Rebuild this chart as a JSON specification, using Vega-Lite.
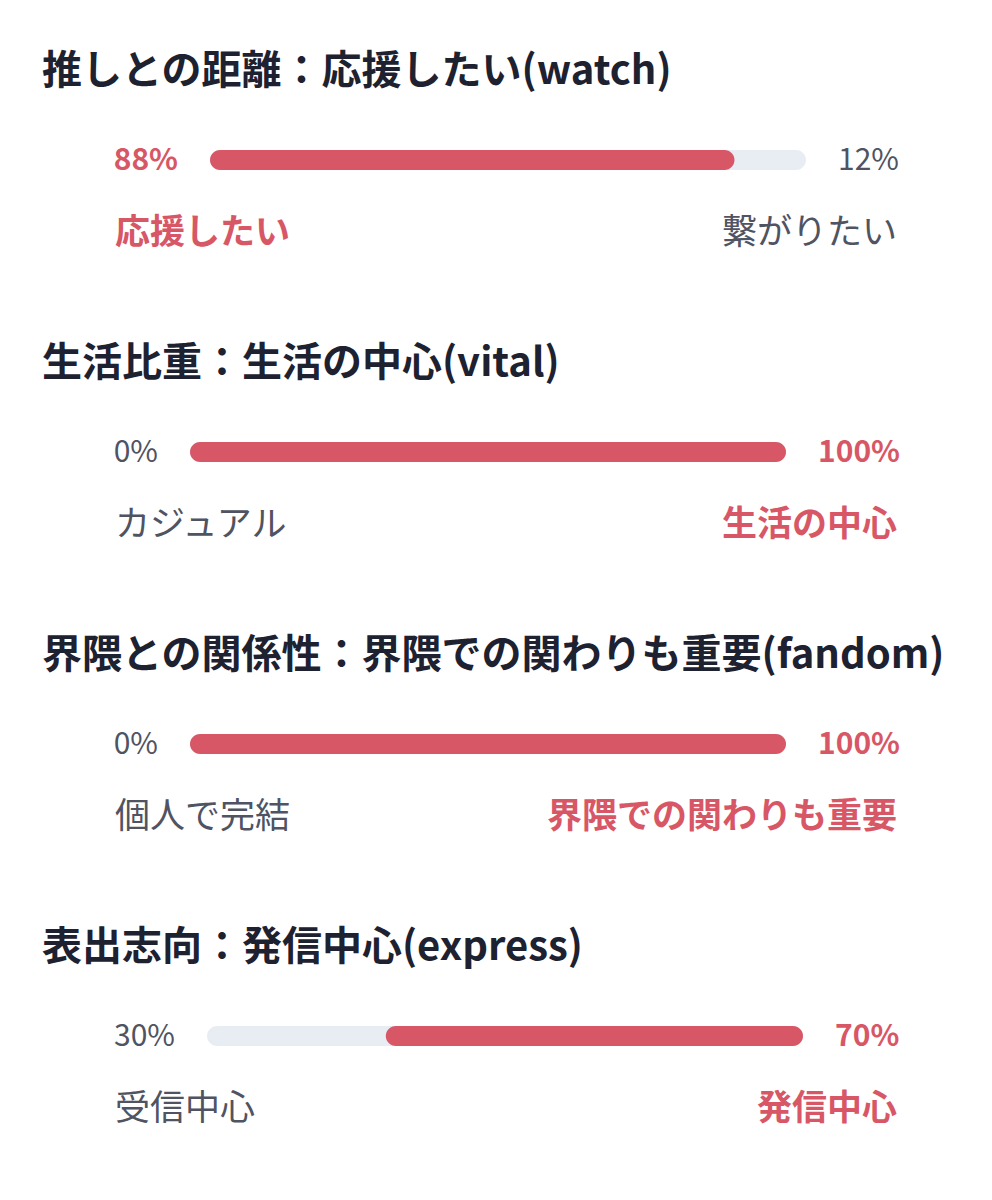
{
"$schema": "https://vega.github.io/schema/vega-lite/v6.json",
"background": "white",
"padding": 0,
"autosize": {"type": "pad"},
"spacing": 0,
"config": {"view": {"stroke": null}, "font": "Noto Sans CJK JP", "text": {"font": "Noto Sans CJK JP"}},
"datasets": {
"d": [
{"sec":1,"title":"推しとの距離：応援したい(watch)","lp":0.88,"rp":0.12,"leftLabel":"応援したい","rightLabel":"繋がりたい","winner":"left"},
{"sec":2,"title":"生活比重：生活の中心(vital)","lp":0,"rp":1,"leftLabel":"カジュアル","rightLabel":"生活の中心","winner":"right"},
{"sec":3,"title":"界隈との関係性：界隈での関わりも重要(fandom)","lp":0,"rp":1,"leftLabel":"個人で完結","rightLabel":"界隈での関わりも重要","winner":"right"},
{"sec":4,"title":"表出志向：発信中心(express)","lp":0.3,"rp":0.7,"leftLabel":"受信中心","rightLabel":"発信中心","winner":"right"}
]
},
"vconcat": [
{
"width": 992, "height": 292,
"data": {"name": "d"},
"transform": [{"filter": "datum.sec == 1"}],
"layer": [
{"mark":{"type":"text","align":"left","baseline":"middle","fontSize":40,"fontWeight":"bold","color":"#1D2130","dx":-168,"dy":-15},"encoding":{"x":{"datum":0,"type":"quantitative","scale":{"domain":[0,1],"range":[210,806]},"axis":null},"y":{"datum":"title","type":"nominal","scale":{"type":"point","domain":["title","bar","label"],"range":[87,233],"padding":0},"axis":null},"text":{"field":"title"}}},
{"mark":{"type":"bar","height":20,"cornerRadius":10,"color":"#E8EDF4"},"encoding":{"x":{"datum":0,"type":"quantitative"},"x2":{"datum":1},"y":{"datum":"bar","type":"nominal"}}},
{"transform":[{"filter":"datum.winner == 'left'"}],"mark":{"type":"bar","height":20,"cornerRadius":10,"color":"#D85766"},"encoding":{"x":{"field":"lp","type":"quantitative"},"x2":{"datum":0},"y":{"datum":"bar","type":"nominal"}}},
{"transform":[{"filter":"datum.winner == 'right'"}],"mark":{"type":"bar","height":20,"cornerRadius":10,"color":"#D85766"},"encoding":{"x":{"field":"lp","type":"quantitative"},"x2":{"datum":1},"y":{"datum":"bar","type":"nominal"}}},
{"transform":[{"filter":"datum.winner == 'left'"}],"mark":{"type":"text","align":"right","baseline":"middle","fontSize":30,"fontWeight":"bold","color":"#D85766","dx":-32,"dy":1},"encoding":{"x":{"datum":0,"type":"quantitative"},"y":{"datum":"bar","type":"nominal"},"text":{"field":"lp","format":".0%"}}},
{"transform":[{"filter":"datum.winner != 'left'"}],"mark":{"type":"text","align":"right","baseline":"middle","fontSize":30,"fontWeight":"normal","color":"#4F5362","dx":-32,"dy":1},"encoding":{"x":{"datum":0,"type":"quantitative"},"y":{"datum":"bar","type":"nominal"},"text":{"field":"lp","format":".0%"}}},
{"transform":[{"filter":"datum.winner == 'right'"}],"mark":{"type":"text","align":"left","baseline":"middle","fontSize":30,"fontWeight":"bold","color":"#D85766","dx":32,"dy":1},"encoding":{"x":{"datum":1,"type":"quantitative"},"y":{"datum":"bar","type":"nominal"},"text":{"field":"rp","format":".0%"}}},
{"transform":[{"filter":"datum.winner != 'right'"}],"mark":{"type":"text","align":"left","baseline":"middle","fontSize":30,"fontWeight":"normal","color":"#4F5362","dx":32,"dy":1},"encoding":{"x":{"datum":1,"type":"quantitative"},"y":{"datum":"bar","type":"nominal"},"text":{"field":"rp","format":".0%"}}},
{"transform":[{"filter":"datum.winner == 'left'"}],"mark":{"type":"text","align":"left","baseline":"middle","fontSize":35,"fontWeight":"bold","color":"#D85766","dx":-95},"encoding":{"x":{"datum":0,"type":"quantitative"},"y":{"datum":"label","type":"nominal"},"text":{"field":"leftLabel"}}},
{"transform":[{"filter":"datum.winner != 'left'"}],"mark":{"type":"text","align":"left","baseline":"middle","fontSize":35,"fontWeight":"normal","color":"#4F5362","dx":-95},"encoding":{"x":{"datum":0,"type":"quantitative"},"y":{"datum":"label","type":"nominal"},"text":{"field":"leftLabel"}}},
{"transform":[{"filter":"datum.winner == 'right'"}],"mark":{"type":"text","align":"right","baseline":"middle","fontSize":35,"fontWeight":"bold","color":"#D85766","dx":91},"encoding":{"x":{"datum":1,"type":"quantitative"},"y":{"datum":"label","type":"nominal"},"text":{"field":"rightLabel"}}},
{"transform":[{"filter":"datum.winner != 'right'"}],"mark":{"type":"text","align":"right","baseline":"middle","fontSize":35,"fontWeight":"normal","color":"#4F5362","dx":91},"encoding":{"x":{"datum":1,"type":"quantitative"},"y":{"datum":"label","type":"nominal"},"text":{"field":"rightLabel"}}}
]
},
{
"width": 992, "height": 292,
"data": {"name": "d"},
"transform": [{"filter": "datum.sec == 2"}],
"layer": [
{"mark":{"type":"text","align":"left","baseline":"middle","fontSize":40,"fontWeight":"bold","color":"#1D2130","dx":-148,"dy":-15},"encoding":{"x":{"datum":0,"type":"quantitative","scale":{"domain":[0,1],"range":[190,786]},"axis":null},"y":{"datum":"title","type":"nominal","scale":{"type":"point","domain":["title","bar","label"],"range":[87,233],"padding":0},"axis":null},"text":{"field":"title"}}},
{"mark":{"type":"bar","height":20,"cornerRadius":10,"color":"#E8EDF4"},"encoding":{"x":{"datum":0,"type":"quantitative"},"x2":{"datum":1},"y":{"datum":"bar","type":"nominal"}}},
{"transform":[{"filter":"datum.winner == 'left'"}],"mark":{"type":"bar","height":20,"cornerRadius":10,"color":"#D85766"},"encoding":{"x":{"field":"lp","type":"quantitative"},"x2":{"datum":0},"y":{"datum":"bar","type":"nominal"}}},
{"transform":[{"filter":"datum.winner == 'right'"}],"mark":{"type":"bar","height":20,"cornerRadius":10,"color":"#D85766"},"encoding":{"x":{"field":"lp","type":"quantitative"},"x2":{"datum":1},"y":{"datum":"bar","type":"nominal"}}},
{"transform":[{"filter":"datum.winner == 'left'"}],"mark":{"type":"text","align":"right","baseline":"middle","fontSize":30,"fontWeight":"bold","color":"#D85766","dx":-32,"dy":1},"encoding":{"x":{"datum":0,"type":"quantitative"},"y":{"datum":"bar","type":"nominal"},"text":{"field":"lp","format":".0%"}}},
{"transform":[{"filter":"datum.winner != 'left'"}],"mark":{"type":"text","align":"right","baseline":"middle","fontSize":30,"fontWeight":"normal","color":"#4F5362","dx":-32,"dy":1},"encoding":{"x":{"datum":0,"type":"quantitative"},"y":{"datum":"bar","type":"nominal"},"text":{"field":"lp","format":".0%"}}},
{"transform":[{"filter":"datum.winner == 'right'"}],"mark":{"type":"text","align":"left","baseline":"middle","fontSize":30,"fontWeight":"bold","color":"#D85766","dx":32,"dy":1},"encoding":{"x":{"datum":1,"type":"quantitative"},"y":{"datum":"bar","type":"nominal"},"text":{"field":"rp","format":".0%"}}},
{"transform":[{"filter":"datum.winner != 'right'"}],"mark":{"type":"text","align":"left","baseline":"middle","fontSize":30,"fontWeight":"normal","color":"#4F5362","dx":32,"dy":1},"encoding":{"x":{"datum":1,"type":"quantitative"},"y":{"datum":"bar","type":"nominal"},"text":{"field":"rp","format":".0%"}}},
{"transform":[{"filter":"datum.winner == 'left'"}],"mark":{"type":"text","align":"left","baseline":"middle","fontSize":35,"fontWeight":"bold","color":"#D85766","dx":-75},"encoding":{"x":{"datum":0,"type":"quantitative"},"y":{"datum":"label","type":"nominal"},"text":{"field":"leftLabel"}}},
{"transform":[{"filter":"datum.winner != 'left'"}],"mark":{"type":"text","align":"left","baseline":"middle","fontSize":35,"fontWeight":"normal","color":"#4F5362","dx":-75},"encoding":{"x":{"datum":0,"type":"quantitative"},"y":{"datum":"label","type":"nominal"},"text":{"field":"leftLabel"}}},
{"transform":[{"filter":"datum.winner == 'right'"}],"mark":{"type":"text","align":"right","baseline":"middle","fontSize":35,"fontWeight":"bold","color":"#D85766","dx":111},"encoding":{"x":{"datum":1,"type":"quantitative"},"y":{"datum":"label","type":"nominal"},"text":{"field":"rightLabel"}}},
{"transform":[{"filter":"datum.winner != 'right'"}],"mark":{"type":"text","align":"right","baseline":"middle","fontSize":35,"fontWeight":"normal","color":"#4F5362","dx":111},"encoding":{"x":{"datum":1,"type":"quantitative"},"y":{"datum":"label","type":"nominal"},"text":{"field":"rightLabel"}}}
]
},
{
"width": 992, "height": 292,
"data": {"name": "d"},
"transform": [{"filter": "datum.sec == 3"}],
"layer": [
{"mark":{"type":"text","align":"left","baseline":"middle","fontSize":40,"fontWeight":"bold","color":"#1D2130","dx":-148,"dy":-15},"encoding":{"x":{"datum":0,"type":"quantitative","scale":{"domain":[0,1],"range":[190,786]},"axis":null},"y":{"datum":"title","type":"nominal","scale":{"type":"point","domain":["title","bar","label"],"range":[87,233],"padding":0},"axis":null},"text":{"field":"title"}}},
{"mark":{"type":"bar","height":20,"cornerRadius":10,"color":"#E8EDF4"},"encoding":{"x":{"datum":0,"type":"quantitative"},"x2":{"datum":1},"y":{"datum":"bar","type":"nominal"}}},
{"transform":[{"filter":"datum.winner == 'left'"}],"mark":{"type":"bar","height":20,"cornerRadius":10,"color":"#D85766"},"encoding":{"x":{"field":"lp","type":"quantitative"},"x2":{"datum":0},"y":{"datum":"bar","type":"nominal"}}},
{"transform":[{"filter":"datum.winner == 'right'"}],"mark":{"type":"bar","height":20,"cornerRadius":10,"color":"#D85766"},"encoding":{"x":{"field":"lp","type":"quantitative"},"x2":{"datum":1},"y":{"datum":"bar","type":"nominal"}}},
{"transform":[{"filter":"datum.winner == 'left'"}],"mark":{"type":"text","align":"right","baseline":"middle","fontSize":30,"fontWeight":"bold","color":"#D85766","dx":-32,"dy":1},"encoding":{"x":{"datum":0,"type":"quantitative"},"y":{"datum":"bar","type":"nominal"},"text":{"field":"lp","format":".0%"}}},
{"transform":[{"filter":"datum.winner != 'left'"}],"mark":{"type":"text","align":"right","baseline":"middle","fontSize":30,"fontWeight":"normal","color":"#4F5362","dx":-32,"dy":1},"encoding":{"x":{"datum":0,"type":"quantitative"},"y":{"datum":"bar","type":"nominal"},"text":{"field":"lp","format":".0%"}}},
{"transform":[{"filter":"datum.winner == 'right'"}],"mark":{"type":"text","align":"left","baseline":"middle","fontSize":30,"fontWeight":"bold","color":"#D85766","dx":32,"dy":1},"encoding":{"x":{"datum":1,"type":"quantitative"},"y":{"datum":"bar","type":"nominal"},"text":{"field":"rp","format":".0%"}}},
{"transform":[{"filter":"datum.winner != 'right'"}],"mark":{"type":"text","align":"left","baseline":"middle","fontSize":30,"fontWeight":"normal","color":"#4F5362","dx":32,"dy":1},"encoding":{"x":{"datum":1,"type":"quantitative"},"y":{"datum":"bar","type":"nominal"},"text":{"field":"rp","format":".0%"}}},
{"transform":[{"filter":"datum.winner == 'left'"}],"mark":{"type":"text","align":"left","baseline":"middle","fontSize":35,"fontWeight":"bold","color":"#D85766","dx":-75},"encoding":{"x":{"datum":0,"type":"quantitative"},"y":{"datum":"label","type":"nominal"},"text":{"field":"leftLabel"}}},
{"transform":[{"filter":"datum.winner != 'left'"}],"mark":{"type":"text","align":"left","baseline":"middle","fontSize":35,"fontWeight":"normal","color":"#4F5362","dx":-75},"encoding":{"x":{"datum":0,"type":"quantitative"},"y":{"datum":"label","type":"nominal"},"text":{"field":"leftLabel"}}},
{"transform":[{"filter":"datum.winner == 'right'"}],"mark":{"type":"text","align":"right","baseline":"middle","fontSize":35,"fontWeight":"bold","color":"#D85766","dx":111},"encoding":{"x":{"datum":1,"type":"quantitative"},"y":{"datum":"label","type":"nominal"},"text":{"field":"rightLabel"}}},
{"transform":[{"filter":"datum.winner != 'right'"}],"mark":{"type":"text","align":"right","baseline":"middle","fontSize":35,"fontWeight":"normal","color":"#4F5362","dx":111},"encoding":{"x":{"datum":1,"type":"quantitative"},"y":{"datum":"label","type":"nominal"},"text":{"field":"rightLabel"}}}
]
},
{
"width": 992, "height": 292,
"data": {"name": "d"},
"transform": [{"filter": "datum.sec == 4"}],
"layer": [
{"mark":{"type":"text","align":"left","baseline":"middle","fontSize":40,"fontWeight":"bold","color":"#1D2130","dx":-165,"dy":-15},"encoding":{"x":{"datum":0,"type":"quantitative","scale":{"domain":[0,1],"range":[207,803]},"axis":null},"y":{"datum":"title","type":"nominal","scale":{"type":"point","domain":["title","bar","label"],"range":[87,233],"padding":0},"axis":null},"text":{"field":"title"}}},
{"mark":{"type":"bar","height":20,"cornerRadius":10,"color":"#E8EDF4"},"encoding":{"x":{"datum":0,"type":"quantitative"},"x2":{"datum":1},"y":{"datum":"bar","type":"nominal"}}},
{"transform":[{"filter":"datum.winner == 'left'"}],"mark":{"type":"bar","height":20,"cornerRadius":10,"color":"#D85766"},"encoding":{"x":{"field":"lp","type":"quantitative"},"x2":{"datum":0},"y":{"datum":"bar","type":"nominal"}}},
{"transform":[{"filter":"datum.winner == 'right'"}],"mark":{"type":"bar","height":20,"cornerRadius":10,"color":"#D85766"},"encoding":{"x":{"field":"lp","type":"quantitative"},"x2":{"datum":1},"y":{"datum":"bar","type":"nominal"}}},
{"transform":[{"filter":"datum.winner == 'left'"}],"mark":{"type":"text","align":"right","baseline":"middle","fontSize":30,"fontWeight":"bold","color":"#D85766","dx":-32,"dy":1},"encoding":{"x":{"datum":0,"type":"quantitative"},"y":{"datum":"bar","type":"nominal"},"text":{"field":"lp","format":".0%"}}},
{"transform":[{"filter":"datum.winner != 'left'"}],"mark":{"type":"text","align":"right","baseline":"middle","fontSize":30,"fontWeight":"normal","color":"#4F5362","dx":-32,"dy":1},"encoding":{"x":{"datum":0,"type":"quantitative"},"y":{"datum":"bar","type":"nominal"},"text":{"field":"lp","format":".0%"}}},
{"transform":[{"filter":"datum.winner == 'right'"}],"mark":{"type":"text","align":"left","baseline":"middle","fontSize":30,"fontWeight":"bold","color":"#D85766","dx":32,"dy":1},"encoding":{"x":{"datum":1,"type":"quantitative"},"y":{"datum":"bar","type":"nominal"},"text":{"field":"rp","format":".0%"}}},
{"transform":[{"filter":"datum.winner != 'right'"}],"mark":{"type":"text","align":"left","baseline":"middle","fontSize":30,"fontWeight":"normal","color":"#4F5362","dx":32,"dy":1},"encoding":{"x":{"datum":1,"type":"quantitative"},"y":{"datum":"bar","type":"nominal"},"text":{"field":"rp","format":".0%"}}},
{"transform":[{"filter":"datum.winner == 'left'"}],"mark":{"type":"text","align":"left","baseline":"middle","fontSize":35,"fontWeight":"bold","color":"#D85766","dx":-92},"encoding":{"x":{"datum":0,"type":"quantitative"},"y":{"datum":"label","type":"nominal"},"text":{"field":"leftLabel"}}},
{"transform":[{"filter":"datum.winner != 'left'"}],"mark":{"type":"text","align":"left","baseline":"middle","fontSize":35,"fontWeight":"normal","color":"#4F5362","dx":-92},"encoding":{"x":{"datum":0,"type":"quantitative"},"y":{"datum":"label","type":"nominal"},"text":{"field":"leftLabel"}}},
{"transform":[{"filter":"datum.winner == 'right'"}],"mark":{"type":"text","align":"right","baseline":"middle","fontSize":35,"fontWeight":"bold","color":"#D85766","dx":94},"encoding":{"x":{"datum":1,"type":"quantitative"},"y":{"datum":"label","type":"nominal"},"text":{"field":"rightLabel"}}},
{"transform":[{"filter":"datum.winner != 'right'"}],"mark":{"type":"text","align":"right","baseline":"middle","fontSize":35,"fontWeight":"normal","color":"#4F5362","dx":94},"encoding":{"x":{"datum":1,"type":"quantitative"},"y":{"datum":"label","type":"nominal"},"text":{"field":"rightLabel"}}}
]
}
]
}
